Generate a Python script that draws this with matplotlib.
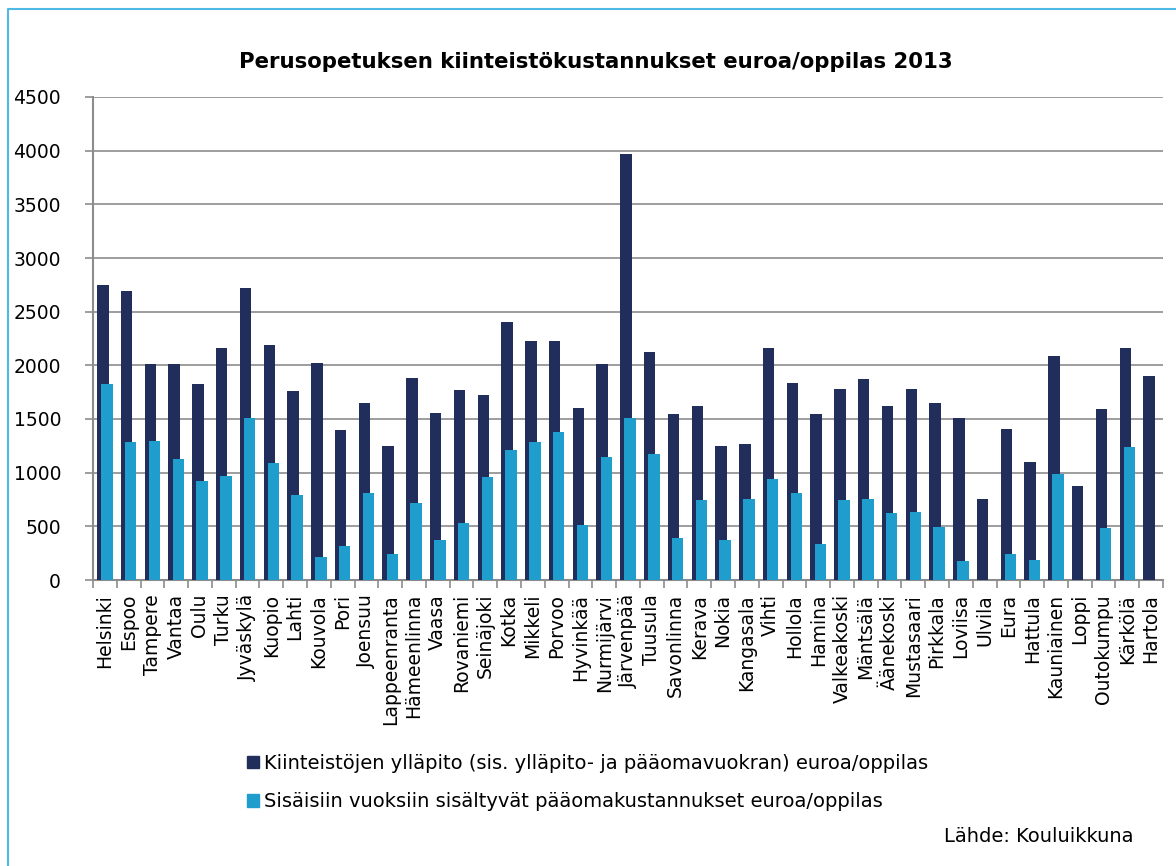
import matplotlib.pyplot as plt
import numpy as np
from matplotlib.patches import Patch
from matplotlib.lines import Line2D

# kunnat, jarjestyksessa kuten kuvassa
kunnat = ['Helsinki', 'Espoo', 'Tampere', 'Vantaa', 'Oulu', 'Turku', 'Jyväskylä',
          'Kuopio', 'Lahti', 'Kouvola', 'Pori', 'Joensuu', 'Lappeenranta',
          'Hämeenlinna', 'Vaasa', 'Rovaniemi', 'Seinäjoki', 'Kotka', 'Mikkeli',
          'Porvoo', 'Hyvinkää', 'Nurmijärvi', 'Järvenpää', 'Tuusula', 'Savonlinna',
          'Kerava', 'Nokia', 'Kangasala', 'Vihti', 'Hollola', 'Hamina',
          'Valkeakoski', 'Mäntsälä', 'Äänekoski', 'Mustasaari', 'Pirkkala',
          'Loviisa', 'Ulvila', 'Eura', 'Hattula', 'Kauniainen', 'Loppi',
          'Outokumpu', 'Kärkölä', 'Hartola']

# kiinteistojen yllapito euroa/oppilas
yllapito = [2750, 2694, 2008, 2017, 1828, 2160, 2719, 2185, 1760, 2023, 1397,
            1651, 1248, 1878, 1555, 1766, 1719, 2402, 2231, 2228, 1598, 2011,
            3969, 2123, 1545, 1623, 1244, 1263, 2166, 1831, 1549, 1778, 1874,
            1623, 1784, 1645, 1508, 751, 1403, 1099, 2085, 878, 1595, 2163, 1902]

# sisaisiin vuokriin sisaltyvat paaomakustannukset euroa/oppilas
paaoma = [1825, 1282, 1294, 1123, 925, 968, 1505, 1086, 794, 211, 320, 813, 245,
          714, 372, 528, 962, 1213, 1288, 1381, 512, 1142, 1505, 1173, 388, 748,
          375, 751, 937, 807, 335, 745, 751, 621, 630, 497, 174, 0, 239, 183,
          984, 0, 487, 1238, 0]

tumma = '#212D5A'
vaalea = '#1F9DCC'
harmaa = '#8C8C8C'

fig = plt.figure(figsize=(11.76, 8.66), dpi=100)
ax = fig.add_axes([93/1176, 1-580/866, (1163-93)/1176, (580-97)/866])

x = np.arange(len(kunnat))
w = 0.48
ax.bar(x - 0.085, yllapito, w, color=tumma, zorder=3)
ax.bar(x + 0.085, paaoma, w, color=vaalea, zorder=4)

ax.set_xlim(-0.5, len(kunnat) - 0.5)
ax.set_ylim(0, 4500)
ax.set_yticks(range(0, 4501, 500))
ax.tick_params(axis='y', labelsize=13.5, length=6, color=harmaa, width=1.2, pad=17)
ax.yaxis.grid(True, color=harmaa, linewidth=1.2, zorder=0)

ax.set_xticks(x)
ax.set_xticklabels(kunnat, rotation=90, fontsize=13.5)
ax.tick_params(axis='x', length=0, pad=10)
ax.set_xticks(np.arange(-0.5, len(kunnat), 1), minor=True)
ax.tick_params(axis='x', which='minor', length=6, color=harmaa, width=1.2)

for s in ['top', 'right']:
    ax.spines[s].set_visible(False)
for s in ['left', 'bottom']:
    ax.spines[s].set_color(harmaa)
    ax.spines[s].set_linewidth(1.5)

fig.text(596/1176, 1-62/866, 'Perusopetuksen kiinteistökustannukset euroa/oppilas 2013',
         ha='center', va='center', fontsize=15.3, fontweight='bold')

kahvat = [Patch(color=tumma), Patch(color=vaalea)]
selitteet = ['Kiinteistöjen ylläpito (sis. ylläpito- ja pääomavuokran) euroa/oppilas',
             'Sisäisiin vuoksiin sisältyvät pääomakustannukset euroa/oppilas']
fig.legend(kahvat, selitteet, loc='upper left', bbox_to_anchor=(247/1176, 1-754/866),
           frameon=False, fontsize=14, handlelength=0.62, handleheight=0.62,
           handletextpad=0.26, labelspacing=0.98, borderpad=0, borderaxespad=0)

fig.text(1133/1176, 1-836/866, 'Lähde: Kouluikkuna', ha='right', va='center', fontsize=14)

# kehys vasemmalla ja ylhaalla
fig.add_artist(Line2D([8/1176, 8/1176, 1], [0, 1-9/866, 1-9/866],
                      transform=fig.transFigure, color='#4FB9E6', linewidth=1.5))

fig.savefig('out.png', dpi=100)
